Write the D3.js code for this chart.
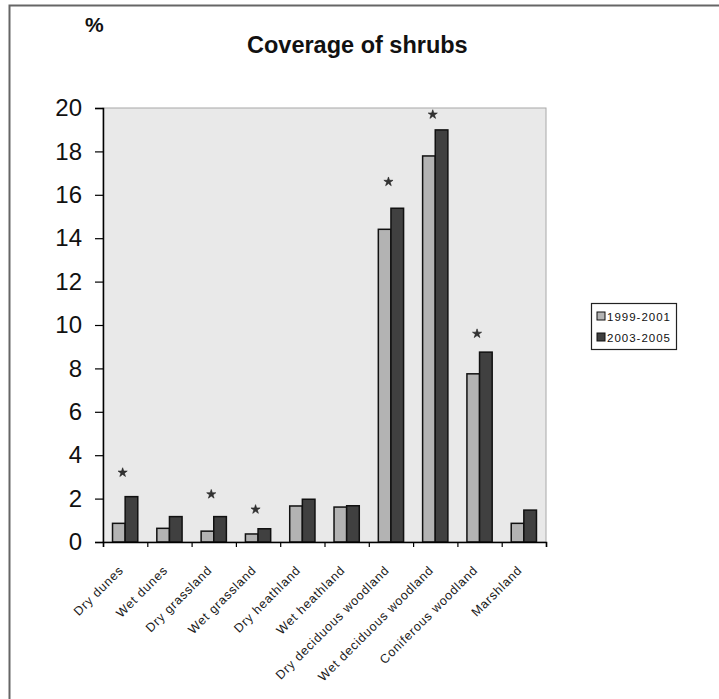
<!DOCTYPE html>
<html>
<head>
<meta charset="utf-8">
<script src="https://cdn.jsdelivr.net/npm/d3@7"></script>
<style>
  body { margin: 0; background: #fff; }
  svg { display: block; font-family: "Liberation Sans", Arial, sans-serif; }
</style>
</head>
<body>
<div class="chart"></div>
<script>
const width = 719;
const height = 699;

// DATA //
const categories = ["Dry dunes", "Wet dunes", "Dry grassland", "Wet grassland", "Dry heathland",
    "Wet heathland", "Dry deciduous woodland", "Wet deciduous woodland", "Coniferous woodland", "Marshland"];
const series = ["1999-2001", "2003-2005"];
const values1999 = [0.86, 0.63, 0.50, 0.37, 1.66, 1.61, 14.41, 17.79, 7.75, 0.86];
const values2003 = [2.09, 1.17, 1.17, 0.61, 1.97, 1.67, 15.38, 18.99, 8.75, 1.47];
// height (in %) at which the significance star sits, null = no star
const starValues = [3.2, null, 2.2, 1.5, null, null, 16.6, 19.7, 9.6, null];
const yTicks = [0, 2, 4, 6, 8, 10, 12, 14, 16, 18, 20];

const colors = ["#b3b3b3", "#404040"];

const rows = categories.map((c, i) => ({cat: c, vals: [values1999[i], values2003[i]], star: starValues[i]}));

// plot area
const plotL = 103, plotR = 546, plotT = 108, plotB = 542;

const svg = d3.select(".chart")
    .append("svg")
    .attr("width", width)
    .attr("height", height)
    .attr("viewBox", [0, 0, width, height]);

// outer frame (only top and left visible)
svg.append("rect")
    .attr("x", 9.5).attr("y", 5.5)
    .attr("width", width + 20).attr("height", height + 20)
    .attr("fill", "none")
    .attr("stroke", "#666")
    .attr("stroke-width", 2);

// SCALES //
const x0 = d3.scaleBand()
    .domain(categories)
    .range([plotL, plotR])
    .paddingInner(0.43)
    .paddingOuter(0.215);

const x1 = d3.scaleBand()
    .domain(series)
    .range([0, x0.bandwidth()]);

const xb = d3.scaleLinear().domain([0, categories.length]).range([plotL, plotR]);

const y = d3.scaleLinear().domain([0, 20]).range([plotB, plotT]);

// plot background
svg.append("rect")
    .attr("x", plotL).attr("y", plotT)
    .attr("width", plotR - plotL).attr("height", plotB - plotT)
    .attr("fill", "#e9e9e9")
    .attr("stroke", "#a8a8a8")
    .attr("stroke-width", 1);

// BARS //
const groups = svg.append("g")
    .selectAll("g")
    .data(rows)
    .join("g")
    .attr("transform", d => `translate(${x0(d.cat)},0)`);

groups.selectAll("rect")
    .data(d => d.vals.map((v, k) => ({key: series[k], v, k})))
    .join("rect")
    .attr("x", d => x1(d.key))
    .attr("y", d => y(d.v))
    .attr("width", x1.bandwidth())
    .attr("height", d => y(0) - y(d.v))
    .attr("fill", d => colors[d.k])
    .attr("stroke", "#111")
    .attr("stroke-width", 1.5);

// significance stars
svg.append("g")
    .selectAll("path")
    .data(rows.filter(d => d.star !== null))
    .join("path")
    .attr("transform", d => `translate(${x0(d.cat) + x0.bandwidth() / 2 - 2.5},${y(d.star)})`)
    .attr("d", d3.symbol(d3.symbolStar, 26))
    .attr("fill", "#333")
    .attr("stroke", "#222")
    .attr("stroke-width", 0.6);

// AXES //
const yAxis = svg.append("g")
    .attr("transform", `translate(${plotL},0)`)
    .call(d3.axisLeft(y).tickValues(yTicks).tickSize(8).tickPadding(13).tickFormat(d3.format("d")));
yAxis.select(".domain").attr("stroke", "#000").attr("stroke-width", 1.5);
yAxis.selectAll(".tick line").attr("stroke", "#000").attr("stroke-width", 1.2);
yAxis.selectAll(".tick text")
    .attr("font-size", 24)
    .attr("fill", "#111")
    .attr("font-family", "Liberation Sans, Arial, sans-serif");

const xAxis = svg.append("g")
    .attr("transform", `translate(0,${plotB})`)
    .call(d3.axisBottom(xb).tickValues(d3.range(categories.length + 1)).tickSize(5).tickFormat(""));
xAxis.select(".domain").attr("stroke", "#000").attr("stroke-width", 1.5);
xAxis.selectAll(".tick line").attr("stroke", "#000").attr("stroke-width", 1.2);

// category labels
svg.append("g")
    .selectAll("text")
    .data(categories)
    .join("text")
    .attr("transform", d => `translate(${x0(d) + x0.bandwidth() / 2 - 1},${plotB + 29}) rotate(-45)`)
    .attr("text-anchor", "end")
    .attr("font-size", 12.5)
    .attr("letter-spacing", 0.8)
    .attr("fill", "#1a1a1a")
    .text(d => d);

// TITLES //
svg.append("text")
    .attr("x", 247)
    .attr("y", 53)
    .attr("font-size", 23.5)
    .attr("font-weight", "bold")
    .attr("fill", "#111")
    .text("Coverage of shrubs");

svg.append("text")
    .attr("x", 85)
    .attr("y", 32)
    .attr("font-size", 21)
    .attr("font-weight", "bold")
    .attr("fill", "#111")
    .text("%");

// LEGEND //
const legend = svg.append("g").attr("transform", "translate(591,303)");
legend.append("rect")
    .attr("x", 0.5).attr("y", 0.5)
    .attr("width", 85).attr("height", 46)
    .attr("fill", "#fff")
    .attr("stroke", "#222")
    .attr("stroke-width", 1.2);

const items = legend.selectAll("g.item")
    .data(series)
    .join("g")
    .attr("class", "item")
    .attr("transform", (d, i) => `translate(6,${9 + i * 21})`);

items.append("rect")
    .attr("width", 8).attr("height", 8)
    .attr("fill", (d, i) => colors[i])
    .attr("stroke", "#111")
    .attr("stroke-width", 1);

items.append("text")
    .attr("x", 10)
    .attr("y", 8.5)
    .attr("font-size", 11.5)
    .attr("letter-spacing", 1)
    .attr("fill", "#111")
    .text(d => d);
</script>
</body>
</html>
